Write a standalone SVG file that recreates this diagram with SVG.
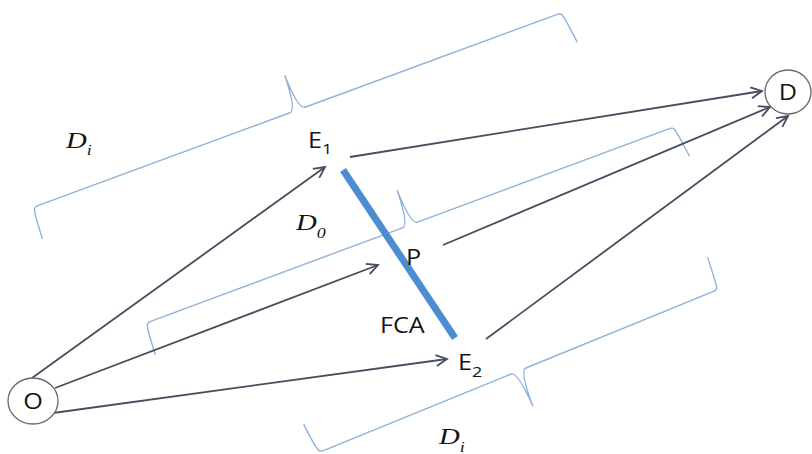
<svg xmlns="http://www.w3.org/2000/svg" width="812" height="454" viewBox="0 0 812 454">
<style>
.lbl{font-family:"Open Sans","Noto Sans","Liberation Sans",sans-serif;font-size:21px;fill:#151515}
.sub{font-size:15px}
.math{font-family:"Liberation Serif","DejaVu Serif",serif;font-style:italic;font-size:24px;fill:#151515}
.msub{font-size:15px}
.node{fill:#ffffff;stroke:#6a6a6a;stroke-width:1.3}
.edge{stroke:#464d5e;stroke-width:1.8;fill:none}
.brace{stroke:#8fb3da;stroke-width:1.4;fill:none}
.fca{stroke:#4b8dd0;stroke-width:7;stroke-linecap:butt}
</style>
<defs>
<marker id="arr" markerUnits="userSpaceOnUse" markerWidth="16" markerHeight="16" viewBox="-12 -8 14 16" refX="0" refY="0" orient="auto">
<path d="M-11,-5.5 L0,0 L-11,5.5" fill="none" stroke="#464d5e" stroke-width="1.8" stroke-linejoin="miter"/>
</marker>
<path id="braceLong" d="M-284,33 C-283,20 -283,6 -281,2 Q-280,0 -276,0 L-8,0 Q-1,0 0,-37 Q1,0 8,0 L276,0 Q280,0 281,2 C283,6 284,20 286,33"/>
</defs>

<g id="braces">
<use href="#braceLong" class="brace" transform="translate(297.5,110) rotate(-20.2)"/>
<use href="#braceLong" class="brace" transform="translate(410,225) rotate(-20.4)"/>
<path class="brace" transform="translate(518.5,371) rotate(-22.2)" d="M-219,-32 C-218,-20 -217,-6 -215,-2 Q-214,0 -210,0 L-8,0 Q-1,0 0,38 Q1,0 8,0 L210,0 Q214,0 215,-2 C216,-6 217,-20 218,-34"/>
</g>

<g id="fca">
<line class="fca" x1="343" y1="170" x2="455" y2="338"/>
</g>

<g id="connectors">
<line class="edge" x1="32" y1="378" x2="325" y2="167" marker-end="url(#arr)"/>
<line class="edge" x1="55" y1="388" x2="378" y2="265" marker-end="url(#arr)"/>
<line class="edge" x1="53" y1="413" x2="447" y2="359" marker-end="url(#arr)"/>
<line class="edge" x1="350" y1="157" x2="762" y2="91" marker-end="url(#arr)"/>
<line class="edge" x1="443" y1="245" x2="770" y2="107" marker-end="url(#arr)"/>
<line class="edge" x1="486" y1="339" x2="788" y2="116" marker-end="url(#arr)"/>
</g>

<g id="node-O">
<ellipse class="node" cx="33" cy="401" rx="25" ry="23"/>
<text class="lbl" text-anchor="middle" transform="translate(33,409) scale(1.2,1)">O</text>
</g>
<g id="node-D">
<ellipse class="node" cx="788" cy="92" rx="23" ry="22"/>
<text class="lbl" text-anchor="middle" transform="translate(788,100) scale(1.2,1)">D</text>
</g>
<g id="node-E1">
<text class="lbl" transform="translate(308,148) scale(1.2,1)">E<tspan class="sub" dy="6">1</tspan></text>
</g>
<g id="node-P">
<text class="lbl" transform="translate(406,265) scale(1.2,1)">P</text>
</g>
<g id="node-E2">
<text class="lbl" transform="translate(458,370) scale(1.2,1)">E<tspan class="sub" dy="7">2</tspan></text>
</g>
<g id="label-FCA">
<text class="lbl" transform="translate(380,333) scale(1.2,1)">FCA</text>
</g>
<g id="label-Di-top">
<text class="math" transform="translate(66,148) scale(1.2,1)">D<tspan class="msub" dy="7">i</tspan></text>
</g>
<g id="label-D0">
<text class="math" transform="translate(296,230) scale(1.2,1)">D<tspan class="msub" dy="8">0</tspan></text>
</g>
<g id="label-Di-bottom">
<text class="math" transform="translate(439,444) scale(1.2,1)">D<tspan class="msub" dy="8">i</tspan></text>
</g>
</svg>
